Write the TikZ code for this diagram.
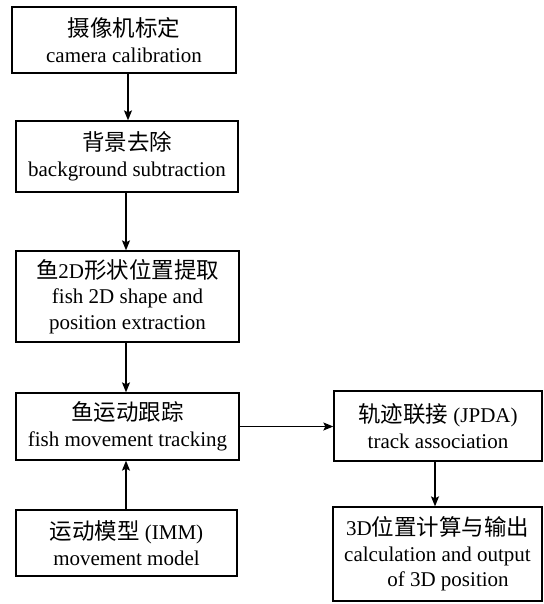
\documentclass[tikz,border=0pt]{standalone}
\usepackage{fontspec}
\setmainfont{Liberation Serif}
\newfontfamily\cjk[Scale=1.07]{Noto Sans CJK SC}
\usetikzlibrary{arrows.meta}
\begin{document}
\begin{tikzpicture}[x=1pt,y=-1pt,
  box/.style={draw,line width=1.3pt,inner sep=0pt,align=center,
    font=\fontsize{21pt}{25.5pt}\selectfont},
  arr/.style={line width=1.3pt,-{Stealth[length=10pt,width=8pt,inset=2pt]}}]
\useasboundingbox (0,0) rectangle (543,604);
\node[box,minimum width=224pt,minimum height=66pt] (b1) at (124,40) {{\cjk 摄像机标定}\\camera calibration};
\node[box,minimum width=222pt,minimum height=71pt] (b2) at (127,156.5) {{\cjk 背景去除}\\background subtraction};
\node[box,minimum width=223pt,minimum height=91pt] (b3) at (127.5,296.5) {{\cjk 鱼}2D{\cjk 形状位置提取}\\fish 2D shape and\\position extraction};
\node[box,minimum width=223pt,minimum height=67pt] (b4) at (127.5,426.5) {{\cjk 鱼运动跟踪}\\fish movement tracking};
\node[box,minimum width=221pt,minimum height=66pt] (b5) at (126.5,543) {{\cjk 运动模型} (IMM)\\movement model};
\node[box,minimum width=208pt,minimum height=70pt] (b6) at (438,426) {{\cjk 轨迹联接} (JPDA)\\track association};
\node[box,minimum width=209pt,minimum height=94pt] (b7) at (437.5,554) {3D{\cjk 位置计算与输出}\\calculation and output\\\quad of 3D position};
\draw[arr] ([xshift=4pt]b1.south) -- ([xshift=4pt]b1.south |- b2.north);
\draw[arr] ([xshift=-1pt]b2.south) -- ([xshift=-1pt]b2.south |- b3.north);
\draw[arr] ([xshift=-1.5pt]b3.south) -- ([xshift=-1.5pt]b3.south |- b4.north);
\draw[arr] ([xshift=-0.5pt]b5.north) -- ([xshift=-0.5pt]b5.north |- b4.south);
\draw[arr] (b4.east) -- (b4.east -| b6.west);
\draw[arr] ([xshift=-3pt]b6.south) -- ([xshift=-3pt]b6.south |- b7.north);
\end{tikzpicture}
\end{document}
